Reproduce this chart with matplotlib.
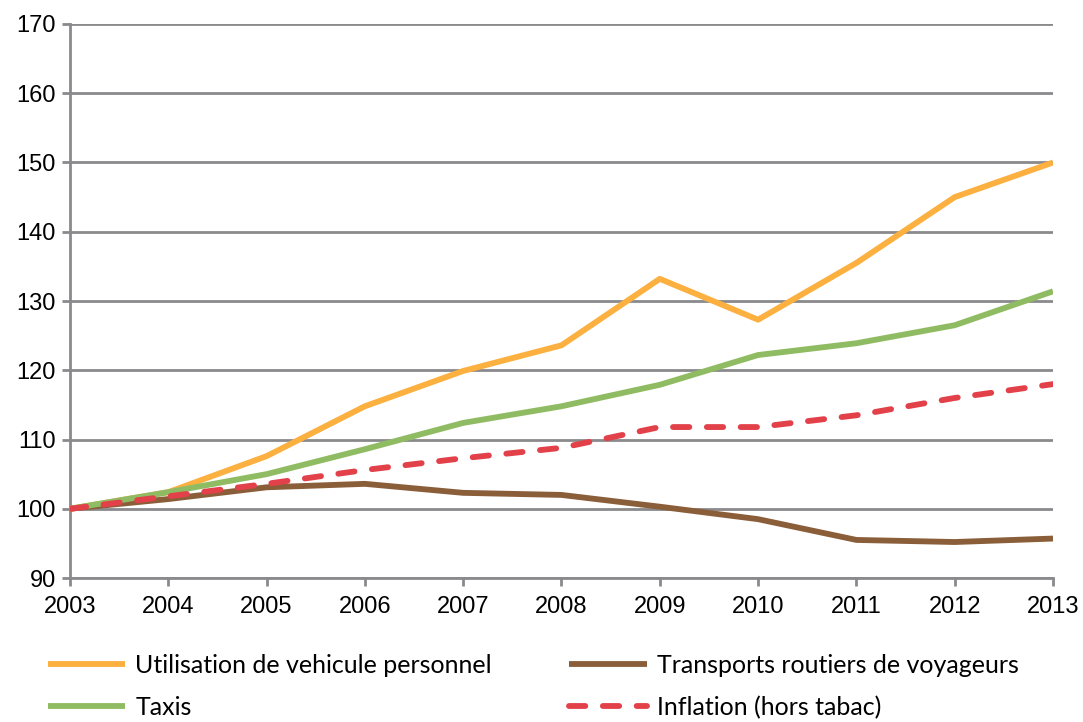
import matplotlib.pyplot as plt

years = [2003, 2004, 2005, 2006, 2007, 2008, 2009, 2010, 2011, 2012, 2013]
vehicule = [100, 102.4, 107.6, 114.8, 119.9, 123.6, 133.2, 127.3, 135.5, 145.0, 150.0]
transports = [100, 101.4, 103.1, 103.6, 102.3, 102.0, 100.3, 98.5, 95.5, 95.2, 95.7]
taxis = [100, 102.4, 105.0, 108.6, 112.4, 114.8, 117.9, 122.2, 123.9, 126.5, 131.4]
inflation = [100, 101.8, 103.6, 105.6, 107.3, 108.8, 111.8, 111.8, 113.5, 116.0, 118.0]

grid_col = '#8a8a8c'

fig = plt.figure(figsize=(10.83, 7.22), dpi=100)
ax = fig.add_axes([0.0646, 0.1994, 0.9077, 0.7674])

lw = 4.2
l1, = ax.plot(years, vehicule, color='#fbb040', lw=lw, solid_capstyle='butt', zorder=3,
              label='Utilisation de vehicule personnel')
l2, = ax.plot(years, transports, color='#8b5e3a', lw=lw, solid_capstyle='butt', zorder=3,
              label='Transports routiers de voyageurs')
l3, = ax.plot(years, taxis, color='#8fbc62', lw=lw, solid_capstyle='butt', zorder=4,
              label='Taxis')
l4, = ax.plot(years, inflation, color='#e2414a', lw=lw, dashes=(2.8, 3.0),
              dash_capstyle='round', zorder=5, label='Inflation (hors tabac)')

ax.set_xlim(2003, 2013)
ax.set_ylim(90, 170)
ax.set_xticks(years)
ax.set_yticks(range(90, 171, 10))
ax.yaxis.grid(True, color=grid_col, lw=2)
ax.set_axisbelow(True)
for s in ['top', 'right']:
    ax.spines[s].set_visible(False)
for s in ['left', 'bottom']:
    ax.spines[s].set_color(grid_col)
    ax.spines[s].set_linewidth(2)
ax.tick_params(colors=grid_col, width=2, length=6, labelcolor='black',
               labelsize=17)
ax.tick_params(axis='x', pad=7)
ax.tick_params(axis='y', pad=4)
for lab in ax.get_xticklabels() + ax.get_yticklabels():
    lab.set_family('Liberation Sans')

fig.legend(handles=[l1, l3, l2, l4], loc='upper left', bbox_to_anchor=(0.044, 0.094),
           ncol=2, frameon=False, handlelength=3.1, handletextpad=0.4,
           columnspacing=3.1, labelspacing=0.75, borderpad=0, borderaxespad=0,
           prop={'family': 'Lato', 'size': 18})

fig.savefig('out.png', dpi=100)
